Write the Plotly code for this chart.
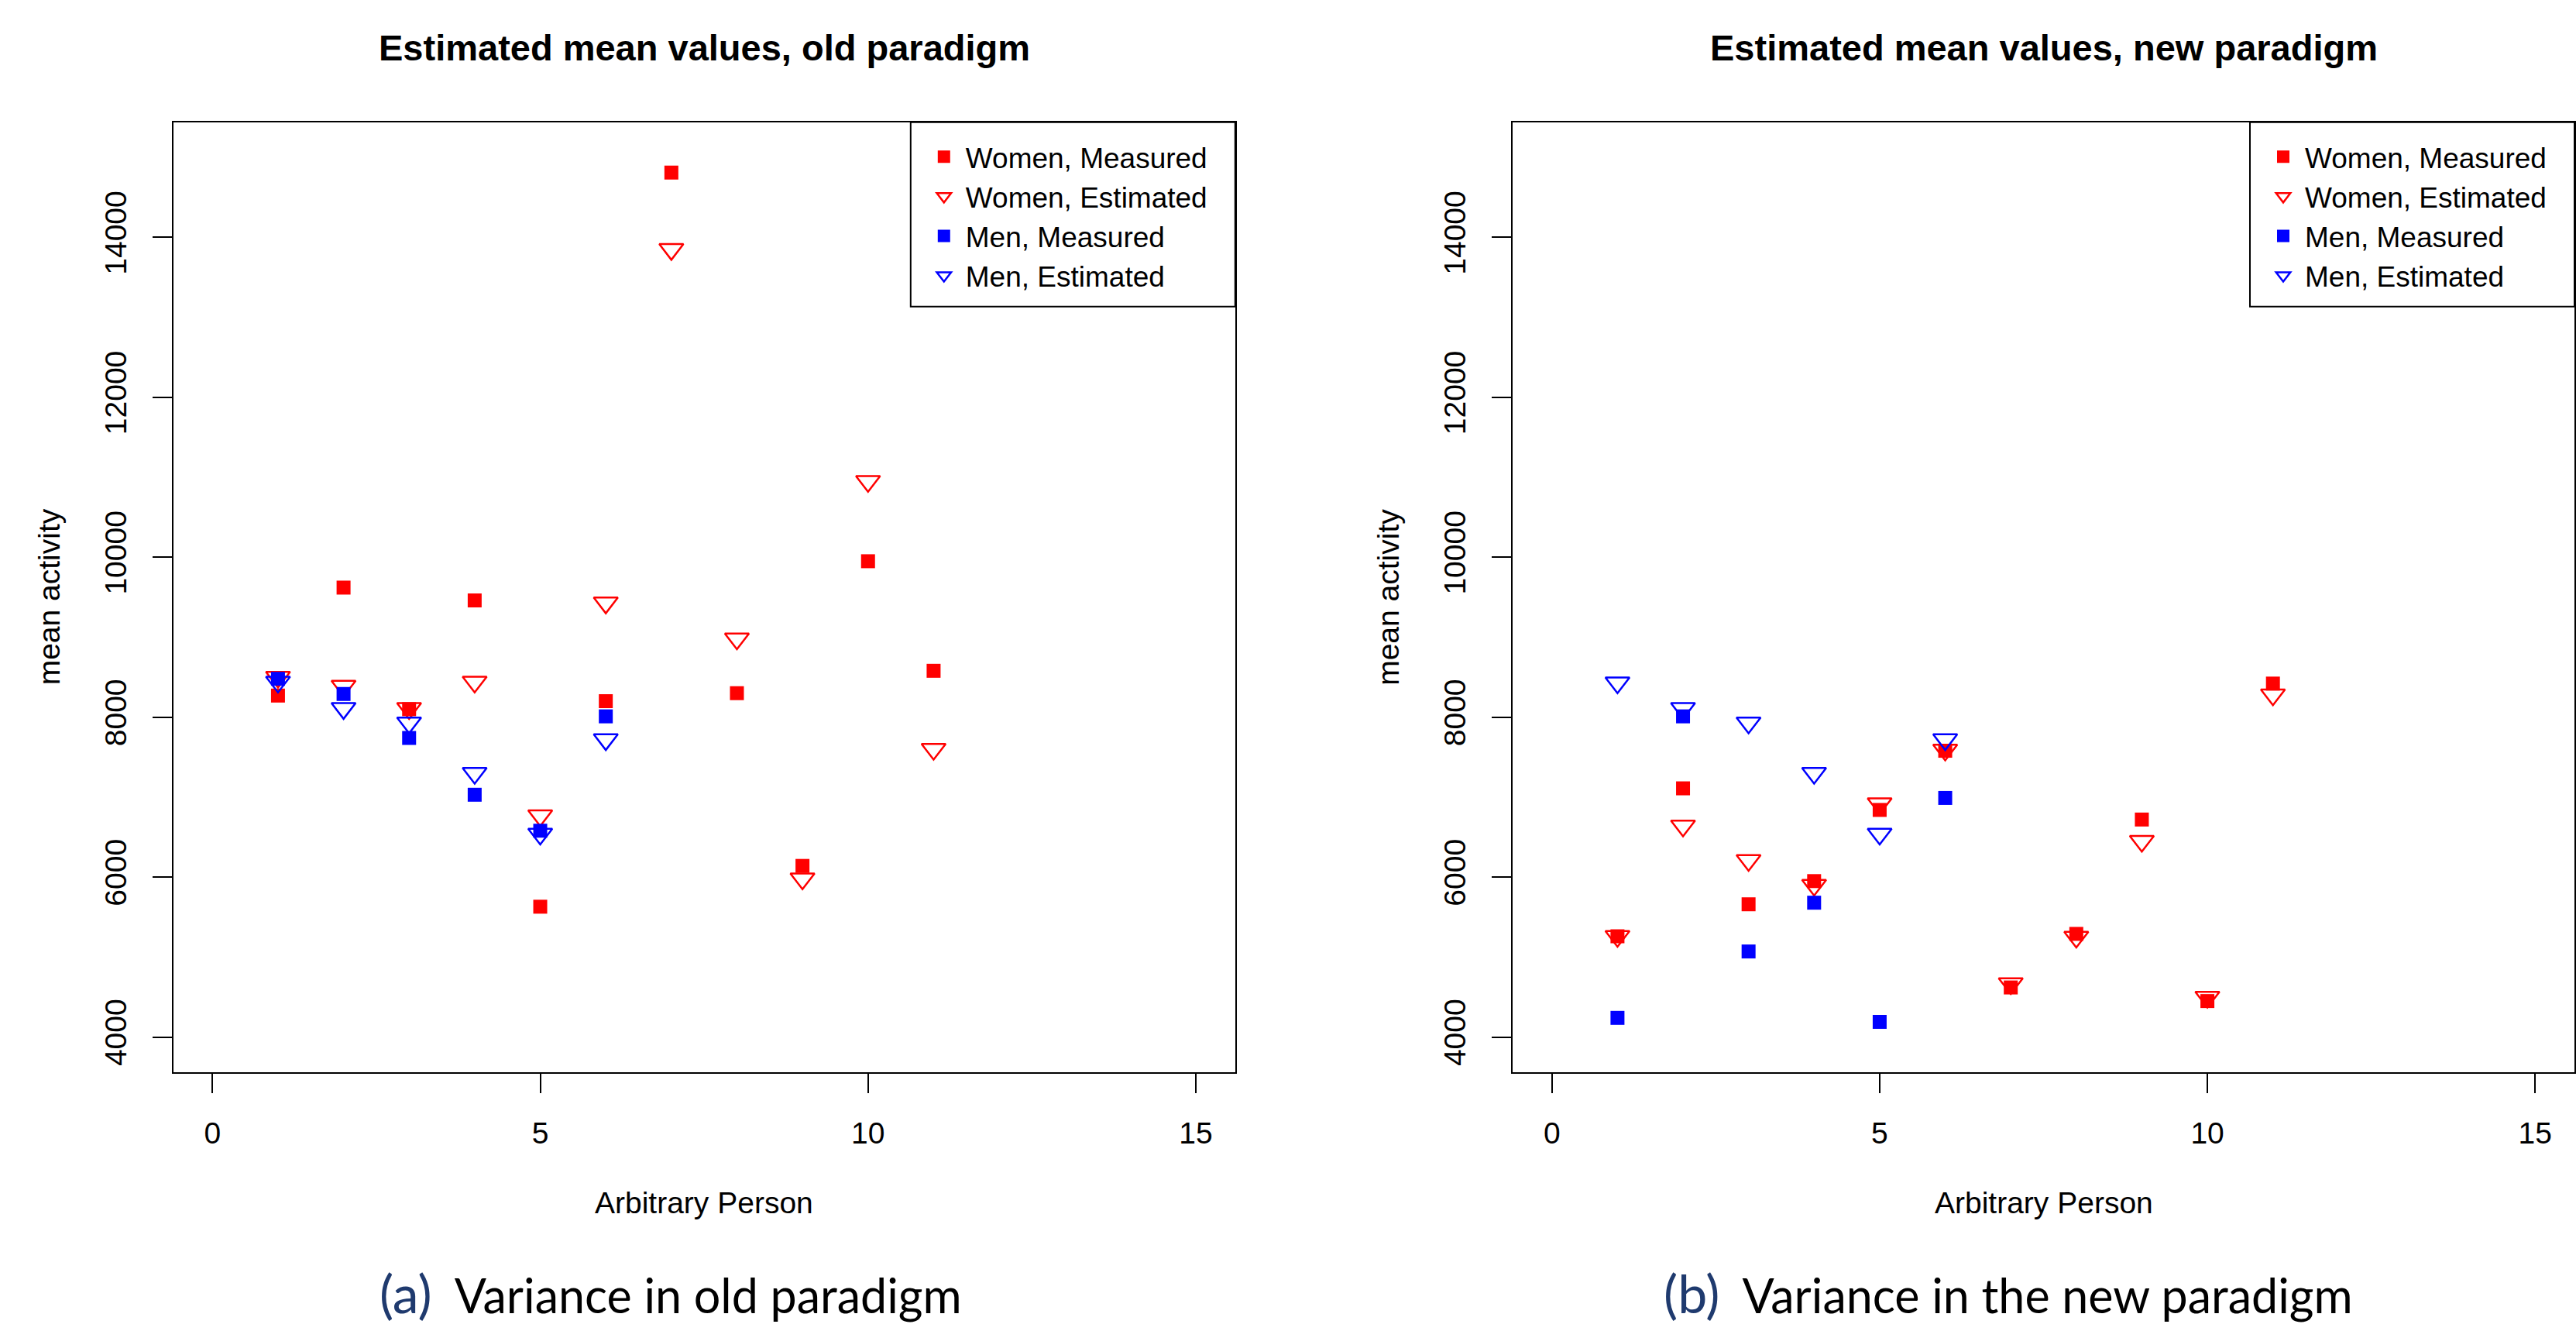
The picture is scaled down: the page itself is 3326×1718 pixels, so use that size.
import plotly.graph_objects as go

# ---------------- data ----------------
persons_women = [1, 2, 3, 4, 5, 6, 7, 8, 9, 10, 11]
persons_men = [1, 2, 3, 4, 5, 6]

# old paradigm (left panel)
women_measured_old = [8270, 9620, 8100, 9460, 5630, 8200, 14810, 8300, 6140, 9950, 8580]
women_estimated_old = [8500, 8390, 8110, 8440, 6770, 9430, 13850, 8980, 5980, 10950, 7600]
men_measured_old = [8480, 8290, 7740, 7030, 6580, 8010]
men_estimated_old = [8440, 8110, 7930, 7300, 6540, 7720]

# new paradigm (right panel)
women_measured_new = [5260, 7110, 5660, 5950, 6840, 7580, 4620, 5290, 6720, 4450, 8420]
women_estimated_new = [5260, 6640, 6210, 5900, 6920, 7590, 4670, 5250, 6450, 4500, 8280]
men_measured_new = [4240, 8010, 5070, 5680, 4190, 6990]
men_estimated_new = [8430, 8110, 7930, 7300, 6540, 7720]

series_names = ["Women, Measured", "Women, Estimated", "Men, Measured", "Men, Estimated"]
x_ticks = [0, 5, 10, 15]
y_ticks = [4000, 6000, 8000, 10000, 12000, 14000]
titles = ["Estimated mean values, old paradigm", "Estimated mean values, new paradigm"]
captions = [("(a)", "Variance in old paradigm"), ("(b)", "Variance in the new paradigm")]
x_title = "Arbitrary Person"
y_title = "mean activity"

# ---------------- layout helpers ----------------
W, H = 3326, 1718
FONT = "Liberation Sans, Arial, Helvetica, sans-serif"
CAP_FONT = "Lato, Open Sans, sans-serif"
RED = "#FF0000"
BLUE = "#0000FF"
CAP_BLUE = "#1F3A6E"

def px(p):
    return p / W

def py(p):
    return 1 - p / H

BOX_TOP, BOX_BOTTOM = 157.7, 1384
left_px = (223.5, 1594.8)
right_px = (1953, 3324)
left_dom = [px(left_px[0]), px(left_px[1])]
right_dom = [px(right_px[0]), px(right_px[1])]
y_dom = [py(BOX_BOTTOM), py(BOX_TOP)]
LEGEND_W, LEGEND_H = 419, 238

fig = go.Figure()

panels = [
    ("x", "y", "legend", women_measured_old, women_estimated_old, men_measured_old, men_estimated_old),
    ("x2", "y2", "legend2", women_measured_new, women_estimated_new, men_measured_new, men_estimated_new),
]

for xa, ya, lg, wm, we, mm, me in panels:
    specs = [
        (persons_women, wm, "square", RED, series_names[0]),
        (persons_women, we, "triangle-down-open", RED, series_names[1]),
        (persons_men, mm, "square", BLUE, series_names[2]),
        (persons_men, me, "triangle-down-open", BLUE, series_names[3]),
    ]
    for xs, ys, sym, col, name in specs:
        if sym == "square":
            marker = dict(symbol=sym, size=18, color=col, line=dict(width=0))
        else:
            marker = dict(symbol=sym, size=27, color=col, line=dict(width=2.5, color=col))
        fig.add_trace(go.Scatter(
            x=xs, y=ys, mode="markers", name=name, marker=marker,
            xaxis=xa, yaxis=ya, legend=lg, showlegend=True,
        ))

axis_common = dict(
    showgrid=False, zeroline=False, showline=True, mirror=True,
    linecolor="black", linewidth=2, ticks="outside", ticklen=25,
    tickwidth=2, tickcolor="black",
    tickfont=dict(family=FONT, size=39, color="black"),
)

xcommon = dict(axis_common, range=[-0.6, 15.6], tickmode="array", tickvals=x_ticks,
               ticktext=[str(v) for v in x_ticks], ticklabelstandoff=18)
ycommon = dict(axis_common, range=[3560, 15440], tickmode="array", tickvals=y_ticks,
               ticktext=[str(v) for v in y_ticks], tickangle=-90, ticklabelstandoff=18)

legend_common = dict(
    xanchor="left", yanchor="top", borderwidth=0,
    bgcolor="rgba(0,0,0,0)", font=dict(family=FONT, size=37, color="black"),
    itemwidth=46, tracegroupgap=0, traceorder="normal",
)

annotations = []
shapes = []
for (l, r), title, cap, cap_x in [(left_px, titles[0], captions[0], 866),
                                  (right_px, titles[1], captions[1], 2593)]:
    cx = px((l + r) / 2)
    annotations.append(dict(text="<b>" + title + "</b>", x=cx, y=py(61), xref="paper", yref="paper",
                            xanchor="center", yanchor="middle", showarrow=False,
                            font=dict(family=FONT, size=47, color="black")))
    annotations.append(dict(text=x_title, x=cx, y=py(1552), xref="paper", yref="paper",
                            xanchor="center", yanchor="middle", showarrow=False,
                            font=dict(family=FONT, size=39, color="black")))
    annotations.append(dict(text=y_title, x=px(l - 160), y=(y_dom[0] + y_dom[1]) / 2,
                            xref="paper", yref="paper", xanchor="center", yanchor="middle",
                            textangle=-90, showarrow=False,
                            font=dict(family=FONT, size=39, color="black")))
    annotations.append(dict(
        text='<span style="font-size:68px;color:%s">%s</span>&nbsp; %s' % (CAP_BLUE, cap[0], cap[1]),
        x=px(cap_x), y=py(1668), xref="paper", yref="paper",
        xanchor="center", yanchor="middle", showarrow=False,
        font=dict(family=CAP_FONT, size=61, color="black")))
    # legend frame
    shapes.append(dict(type="rect", xref="paper", yref="paper",
                       x0=px(r - LEGEND_W), x1=px(r), y0=py(BOX_TOP + LEGEND_H), y1=py(BOX_TOP),
                       line=dict(color="black", width=2), fillcolor="rgba(0,0,0,0)", layer="above"))

fig.update_layout(
    width=W, height=H, autosize=False,
    margin=dict(l=0, r=0, t=0, b=0),
    paper_bgcolor="white", plot_bgcolor="white",
    xaxis=dict(xcommon, domain=left_dom, anchor="y"),
    yaxis=dict(ycommon, domain=y_dom, anchor="x"),
    xaxis2=dict(xcommon, domain=right_dom, anchor="y2"),
    yaxis2=dict(ycommon, domain=y_dom, anchor="x2"),
    legend=dict(legend_common, x=px(left_px[1] - LEGEND_W + 15), y=py(BOX_TOP + 14)),
    legend2=dict(legend_common, x=px(right_px[1] - LEGEND_W + 15), y=py(BOX_TOP + 14)),
    annotations=annotations,
    shapes=shapes,
    showlegend=True,
)

fig.write_html("out.html")
